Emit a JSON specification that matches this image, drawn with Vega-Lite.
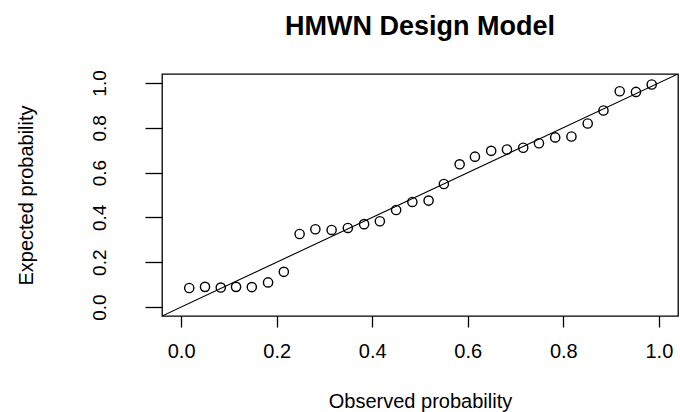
{
  "$schema": "https://vega.github.io/schema/vega-lite/v6.json",
  "autosize": {"type": "none"},
  "padding": {"left": 162, "top": 74, "right": 2, "bottom": 96},
  "width": 516,
  "height": 242,
  "background": "white",
  "config": {
    "view": {"stroke": "black", "strokeWidth": 1.3},
    "font": "Liberation Sans"
  },
  "title": {
    "text": "HMWN Design Model",
    "font": "Liberation Sans",
    "fontSize": 27,
    "fontWeight": "bold",
    "color": "black",
    "anchor": "middle",
    "offset": 29
  },
  "datasets": {
    "pts": [
      {"obs": 0.017, "exp": 0.085},
      {"obs": 0.050, "exp": 0.090},
      {"obs": 0.083, "exp": 0.087},
      {"obs": 0.115, "exp": 0.090},
      {"obs": 0.148, "exp": 0.089},
      {"obs": 0.182, "exp": 0.110},
      {"obs": 0.215, "exp": 0.157},
      {"obs": 0.248, "exp": 0.326},
      {"obs": 0.281, "exp": 0.347},
      {"obs": 0.315, "exp": 0.344},
      {"obs": 0.349, "exp": 0.353},
      {"obs": 0.383, "exp": 0.370},
      {"obs": 0.416, "exp": 0.383},
      {"obs": 0.450, "exp": 0.433},
      {"obs": 0.484, "exp": 0.469},
      {"obs": 0.518, "exp": 0.475},
      {"obs": 0.550, "exp": 0.549},
      {"obs": 0.583, "exp": 0.637},
      {"obs": 0.615, "exp": 0.671},
      {"obs": 0.649, "exp": 0.697},
      {"obs": 0.682, "exp": 0.703},
      {"obs": 0.716, "exp": 0.711},
      {"obs": 0.749, "exp": 0.731},
      {"obs": 0.783, "exp": 0.757},
      {"obs": 0.817, "exp": 0.761},
      {"obs": 0.851, "exp": 0.819},
      {"obs": 0.884, "exp": 0.877},
      {"obs": 0.918, "exp": 0.963},
      {"obs": 0.952, "exp": 0.960},
      {"obs": 0.985, "exp": 0.993}
    ],
    "diag": [
      {"obs": -0.04, "exp": -0.04},
      {"obs": 1.04, "exp": 1.04}
    ]
  },
  "encoding": {
    "x": {
      "field": "obs",
      "type": "quantitative",
      "scale": {"domain": [-0.04, 1.04], "nice": false, "zero": false},
      "axis": {
        "title": "Observed probability",
        "values": [0, 0.2, 0.4, 0.6, 0.8, 1.0],
        "format": ".1f",
        "grid": false,
        "domain": false,
        "tickColor": "black",
        "tickSize": 11,
        "tickWidth": 1.3,
        "labelFont": "Liberation Sans",
        "labelFontSize": 20,
        "labelColor": "black",
        "labelPadding": 14,
        "labelFlush": false,
        "titleFont": "Liberation Sans",
        "titleFontSize": 20,
        "titleFontWeight": "normal",
        "titleColor": "black",
        "titlePadding": 30
      }
    },
    "y": {
      "field": "exp",
      "type": "quantitative",
      "scale": {"domain": [-0.04, 1.04], "nice": false, "zero": false},
      "axis": {
        "title": "Expected probability",
        "values": [0, 0.2, 0.4, 0.6, 0.8, 1.0],
        "format": ".1f",
        "grid": false,
        "domain": false,
        "tickColor": "black",
        "tickSize": 17,
        "tickWidth": 1.3,
        "labelFont": "Liberation Sans",
        "labelFontSize": 19,
        "labelColor": "black",
        "labelAngle": 270,
        "labelAlign": "center",
        "labelBaseline": "bottom",
        "labelPadding": 36,
        "labelFlush": false,
        "titleFont": "Liberation Sans",
        "titleFontSize": 20,
        "titleFontWeight": "normal",
        "titleColor": "black",
        "titlePadding": 54
      }
    }
  },
  "layer": [
    {
      "data": {"name": "diag"},
      "mark": {"type": "line", "color": "black", "strokeWidth": 1.1, "clip": true}
    },
    {
      "data": {"name": "pts"},
      "mark": {"type": "point", "shape": "circle", "filled": false, "color": "black", "size": 85, "strokeWidth": 1.4, "opacity": 1}
    }
  ]
}
